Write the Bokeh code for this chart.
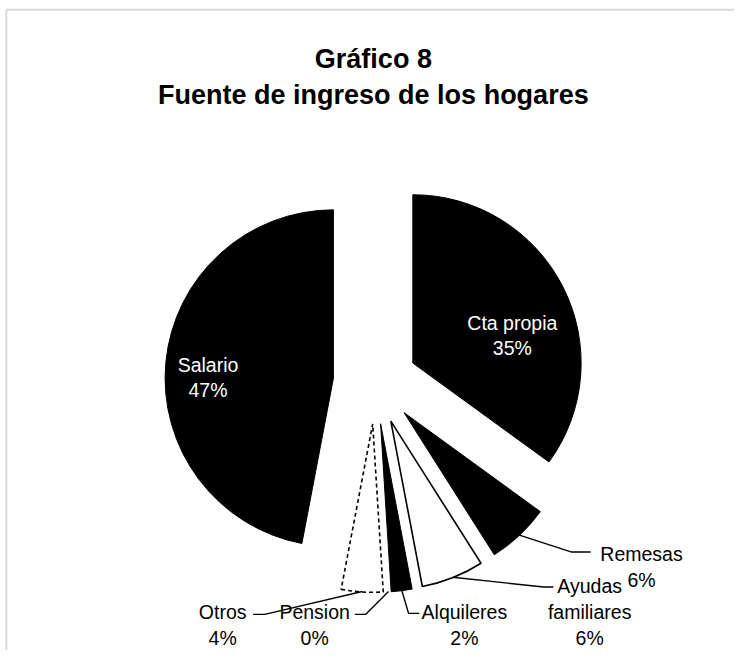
import math
from bokeh.plotting import figure
from bokeh.models import Range1d
from bokeh.core.properties import value
from bokeh.embed import file_html
from bokeh.resources import INLINE

# ---------------- data ----------------
categories = ["Cta propia", "Remesas", "Ayudas familiares", "Alquileres", "Pension", "Otros", "Salario"]
shares = [35, 6, 6, 2, 0, 4, 47]
label_lines = [["Cta propia"], ["Remesas"], ["Ayudas", "familiares"], ["Alquileres"], ["Pension"], ["Otros"], ["Salario"]]
title_lines = ["Gráfico 8", "Fuente de ingreso de los hogares"]

# ---------------- styles / layout (in reference-image units, 750 x 666) ----------------
fills = ["black", "black", "white", "black", "white", "white", "black"]
dashes = ["solid", "solid", "solid", "solid", "solid", "4 3", "solid"]
inside = [True, False, False, False, False, False, True]
# label anchor: x centre, baseline of first line
label_pos = [(523, 330), (655, 567), (602, 600), (474, 627), (321, 627), (227, 627), (212, 373)]
# leader elbow and end points
leader_pts = [None, [(583, 565), (603, 565)], [(555, 601), (565, 601)], [(417, 628), (428, 628)],
              [(373, 629), (362, 629)], [(270, 629), (258, 629)], None]
LINE_H = 26.5
FONT = "Liberation Sans"

REF_W, REF_H = 750, 666
W, H = 734, 650


def X(px):
    return px


def Y(py):
    return REF_H - py


p = figure(width=W, height=H, x_range=Range1d(0, REF_W), y_range=Range1d(0, REF_H),
           output_backend="svg", toolbar_location=None, min_border=0)
p.axis.visible = False
p.grid.visible = False
p.outline_line_color = None
p.background_fill_color = "white"
p.border_fill_color = "white"

# chart border (left and top only visible)
p.line([X(6), X(6), X(760)], [Y(700), Y(9.5), Y(9.5)], line_color="#d9d9d9", line_width=2)

# title
p.text(x=[X(381)], y=[Y(60)], text=[title_lines[0]], text_font=value(FONT), text_font_size="27px",
       text_font_style="bold", text_align="center", text_baseline="alphabetic", text_color="black")
p.text(x=[X(381)], y=[Y(97)], text=[title_lines[1]], text_font=value(FONT), text_font_size="27px",
       text_font_style="bold", text_align="center", text_baseline="alphabetic", text_color="black")

# pie
CX, CY = X(383), Y(391)
R = 172
D = 43
total = float(sum(shares))
cum = 0.0
for i, v in enumerate(shares):
    f0 = cum / total
    f1 = (cum + v) / total
    cum += v
    a_start = math.pi / 2 - 2 * math.pi * f1
    a_end = math.pi / 2 - 2 * math.pi * f0
    mid = (a_start + a_end) / 2
    ox = CX + D * math.cos(mid)
    oy = CY + D * math.sin(mid)
    if v > 0:
        if fills[i] == "black":
            p.wedge(x=[ox], y=[oy], radius=R, start_angle=a_start, end_angle=a_end,
                    fill_color="black", line_color="black", line_width=1)
        else:
            p.wedge(x=[ox], y=[oy], radius=R, start_angle=a_start, end_angle=a_end,
                    fill_color="white", line_color="black", line_width=1.6, line_dash=dashes[i])
    # leader line
    if leader_pts[i] is not None:
        ax = ox + R * math.cos(mid)
        ay = oy + R * math.sin(mid)
        xs = [ax] + [X(q[0]) for q in leader_pts[i]]
        ys = [ay] + [Y(q[1]) for q in leader_pts[i]]
        p.line(xs, ys, line_color="black", line_width=1.4)
    # labels
    lines = label_lines[i] + [f"{v}%"]
    lx, ly = label_pos[i]
    col = "white" if inside[i] else "black"
    p.text(x=[X(lx)] * len(lines), y=[Y(ly + k * LINE_H) for k in range(len(lines))], text=lines,
           text_font=value(FONT), text_font_size="19.5px", text_align="center",
           text_baseline="alphabetic", text_color=col)

open("out.html", "w").write(file_html(p, INLINE))
